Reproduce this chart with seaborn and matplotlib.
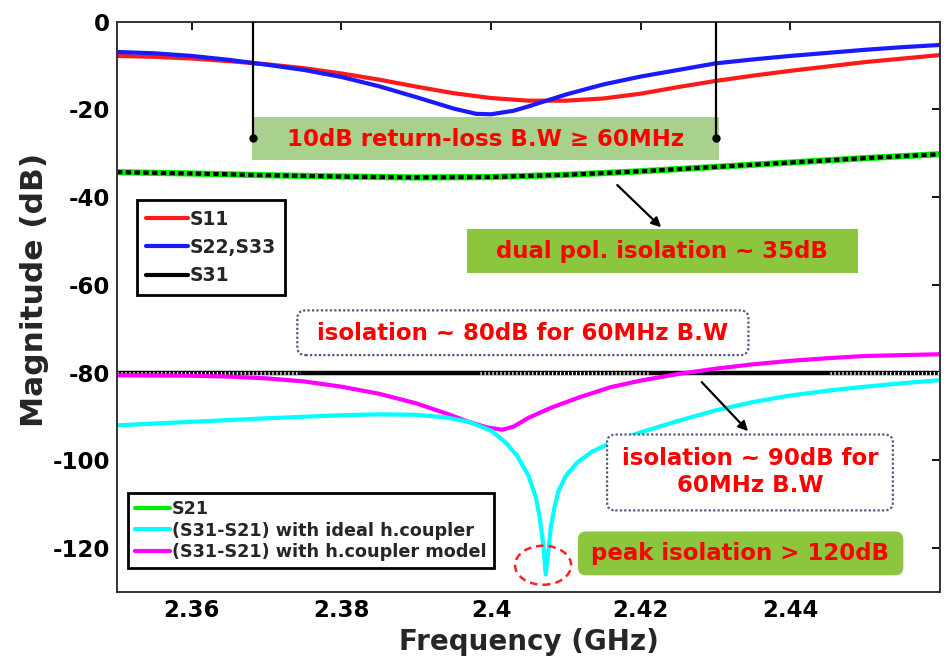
import numpy as np
import pandas as pd
import matplotlib
matplotlib.use("Agg")
import matplotlib.pyplot as plt
import seaborn as sns
from matplotlib.lines import Line2D
from matplotlib.patches import FancyBboxPatch, Ellipse

# ---------------- data ----------------
s11_f = [2.350, 2.355, 2.360, 2.365, 2.370, 2.375, 2.380, 2.385, 2.390, 2.395, 2.400, 2.405,
         2.410, 2.415, 2.420, 2.425, 2.430, 2.435, 2.440, 2.445, 2.450, 2.455, 2.460]
s11_db = [-7.8, -8.0, -8.4, -9.0, -9.7, -10.6, -11.8, -13.2, -14.8, -16.3, -17.4, -18.0,
          -18.0, -17.5, -16.4, -14.9, -13.5, -12.3, -11.2, -10.2, -9.2, -8.4, -7.6]

s22_f = [2.350, 2.355, 2.360, 2.365, 2.370, 2.375, 2.380, 2.385, 2.390, 2.395, 2.398, 2.400,
         2.403, 2.405, 2.410, 2.415, 2.420, 2.425, 2.430, 2.435, 2.440, 2.445, 2.450, 2.455, 2.460]
s22_db = [-6.9, -7.2, -7.8, -8.7, -9.8, -11.0, -12.6, -14.7, -17.2, -19.8, -21.0, -21.1,
          -20.3, -19.3, -16.6, -14.3, -12.5, -11.0, -9.5, -8.6, -7.8, -7.1, -6.4, -5.8, -5.3]

s21_f = [2.350, 2.360, 2.370, 2.380, 2.390, 2.400, 2.410, 2.420, 2.430, 2.440, 2.450, 2.460]
s21_db = [-34.3, -34.6, -35.0, -35.3, -35.5, -35.4, -34.9, -34.1, -33.1, -32.1, -31.1, -30.2]
s31_db = [-34.3, -34.6, -35.0, -35.3, -35.5, -35.4, -34.9, -34.1, -33.1, -32.1, -31.1, -30.2]

iso_ref_f = [2.350, 2.460]
iso_ref_db = [-80.0, -80.0]

ideal_f = [2.350, 2.360, 2.370, 2.380, 2.385, 2.390, 2.394, 2.397, 2.400, 2.402, 2.4035, 2.405,
           2.406, 2.4065, 2.407, 2.4073, 2.4077, 2.408, 2.4085, 2.409, 2.410, 2.4115, 2.4135,
           2.416, 2.420, 2.425, 2.430, 2.435, 2.440, 2.445, 2.450, 2.455, 2.460]
ideal_db = [-92.0, -91.2, -90.4, -89.7, -89.5, -89.6, -90.2, -91.2, -93.2, -96.0, -99.0, -103.5,
            -108.5, -113.0, -119.5, -126.0, -120.0, -115.0, -110.5, -107.0, -103.5, -100.5, -98.0,
            -96.0, -93.6, -91.0, -88.6, -86.7, -85.2, -84.1, -83.2, -82.4, -81.7]

model_f = [2.350, 2.360, 2.365, 2.370, 2.375, 2.380, 2.385, 2.390, 2.394, 2.397, 2.3995, 2.4015,
           2.403, 2.405, 2.408, 2.412, 2.416, 2.420, 2.425, 2.430, 2.435, 2.440, 2.445, 2.450, 2.455, 2.460]
model_db = [-80.6, -80.7, -80.9, -81.3, -82.0, -83.2, -84.8, -87.0, -89.3, -91.2, -92.5, -93.0,
            -92.3, -90.3, -88.0, -85.5, -83.3, -81.8, -80.3, -79.1, -78.1, -77.3, -76.7, -76.2, -76.0, -75.8]

x_ticks = [2.36, 2.38, 2.40, 2.42, 2.44]
x_tick_labels = ["2.36", "2.38", "2.4", "2.42", "2.44"]
y_ticks = [0, -20, -40, -60, -80, -100, -120]

# ---------------- style ----------------
sns.set_style("white")
plt.rcParams['font.family'] = ['DejaVu Sans']
plt.rcParams['font.weight'] = 'bold'
plt.rcParams['axes.labelweight'] = 'bold'
plt.rcParams['axes.unicode_minus'] = False

fig = plt.figure(figsize=(9.49, 6.70), dpi=100)
ax = fig.add_axes([0.1233, 0.1164, 0.8672, 0.8512])

LW = 3.0
RED, BLUE, GREEN, CYAN, MAG = "#ff1a1a", "#1a1aff", "#00ee00", "#00ffff", "#ff00ff"

sns.lineplot(x=s11_f, y=s11_db, ax=ax, color=RED, lw=LW, legend=False, sort=False)
sns.lineplot(x=s22_f, y=s22_db, ax=ax, color=BLUE, lw=LW, legend=False, sort=False)
sns.lineplot(x=s21_f, y=s21_db, ax=ax, color=GREEN, lw=4.5, legend=False, sort=False)
l31 = sns.lineplot(x=s21_f, y=s31_db, ax=ax, color="black", lw=3.0, legend=False, sort=False).lines[-1]
l31.set_dashes([1.3, 0.8])

# -80 dB reference line with dotted segments
sns.lineplot(x=iso_ref_f, y=iso_ref_db, ax=ax, color="black", lw=3.2, legend=False, sort=False)
for a, b in [(2.350, 2.3745), (2.3985, 2.4213), (2.4453, 2.460)]:
    ln = ax.plot([a, b], [iso_ref_db[0]] * 2, color="white", lw=2.2)[0]
    ln.set_dashes([0.4, 0.9])

sns.lineplot(x=model_f, y=model_db, ax=ax, color=MAG, lw=LW, legend=False, sort=False)
sns.lineplot(x=ideal_f, y=ideal_db, ax=ax, color=CYAN, lw=LW, legend=False, sort=False)

ax.set_xlim(2.35, 2.46)
ax.set_ylim(-130, 0)
ax.set_xticks(x_ticks)
ax.set_xticklabels(x_tick_labels)
ax.set_yticks(y_ticks)
ax.set_yticklabels([str(v) for v in y_ticks])
ax.tick_params(direction='in', top=True, right=True, length=6, width=1.3,
               labelsize=16.5, pad=5, colors="black")
for lab in ax.get_xticklabels() + ax.get_yticklabels():
    lab.set_fontweight('bold')
for sp in ax.spines.values():
    sp.set_color("#333333")
    sp.set_linewidth(1.4)
ax.set_xlabel("Frequency (GHz)", fontsize=20, fontweight='bold', labelpad=4)
ax.set_ylabel("Magnitude (dB)", fontsize=22.5, fontweight='bold')
ax.yaxis.set_label_coords(-0.083, 0.53)

# ---------------- annotations ----------------
ASP = 1700.0
for xv in [2.3682, 2.4300]:
    ax.plot([xv, xv], [0, -26.6], color="black", lw=1.6, zorder=4)
    ax.plot([xv], [-26.6], marker='o', color="black", ms=5, zorder=4)

ax.add_patch(FancyBboxPatch((2.3680, -31.5), 0.0625, 9.8, boxstyle="square,pad=0",
                            fc="#a9d18e", ec="none", zorder=3))
ax.text(2.3993, -26.9, "10dB return-loss B.W \u2265 60MHz", color="#ff0000", fontsize=16.5,
        fontweight='bold', ha='center', va='center', zorder=5)

ax.add_patch(FancyBboxPatch((2.3968, -57.3), 0.0523, 10.0, boxstyle="square,pad=0",
                            fc="#8cc63f", ec="none", zorder=3))
ax.text(2.4229, -52.4, "dual pol. isolation ~ 35dB", color="#ff0000", fontsize=16.5,
        fontweight='bold', ha='center', va='center', zorder=5)
ax.annotate("", xy=(2.4230, -47.3), xytext=(2.4166, -36.8),
            arrowprops=dict(arrowstyle="-|>", color="black", lw=1.6, mutation_scale=14), zorder=5)

ax.add_patch(FancyBboxPatch((2.3741, -76.0), 0.0603, 10.2,
                            boxstyle="round,pad=0,rounding_size=0.0011", mutation_aspect=ASP,
                            fc="white", ec="#4a5a80", lw=1.6, ls=(0, (1, 1)), zorder=3))
ax.text(2.4042, -71.0, "isolation ~ 80dB for 60MHz B.W", color="#ff0000", fontsize=16.5,
        fontweight='bold', ha='center', va='center', zorder=5)

ax.annotate("", xy=(2.4346, -93.8), xytext=(2.4279, -81.7),
            arrowprops=dict(arrowstyle="-|>", color="black", lw=1.6, mutation_scale=14), zorder=5)
ax.add_patch(FancyBboxPatch((2.4155, -111.4), 0.0382, 17.3,
                            boxstyle="round,pad=0,rounding_size=0.0011", mutation_aspect=ASP,
                            fc="white", ec="#4a5a80", lw=1.6, ls=(0, (1, 1)), zorder=3))
ax.text(2.4346, -102.7, "isolation ~ 90dB for\n60MHz B.W", color="#ff0000", fontsize=16.5,
        fontweight='bold', ha='center', va='center', linespacing=1.25, zorder=5)

ax.add_patch(FancyBboxPatch((2.4116, -126.2), 0.0435, 10.0,
                            boxstyle="round,pad=0,rounding_size=0.0011", mutation_aspect=ASP,
                            fc="#8cc63f", ec="none", zorder=3))
ax.text(2.4333, -121.2, "peak isolation > 120dB", color="#ff0000", fontsize=16.5,
        fontweight='bold', ha='center', va='center', zorder=5)

ax.add_patch(Ellipse((2.40695, -123.9), 0.0075, 8.9, fc="none", ec="#ff2020",
                     lw=1.8, ls=(0, (3, 2)), zorder=5))

# ---------------- legends ----------------
h1 = [Line2D([], [], color=RED, lw=3), Line2D([], [], color=BLUE, lw=3),
      Line2D([], [], color="black", lw=3)]
leg1 = ax.legend(h1, ["S11", "S22,S33", "S31"], loc="upper left",
                 bbox_to_anchor=(0.0243, 0.687), frameon=True, fancybox=False, framealpha=1,
                 edgecolor="black", borderaxespad=0, handlelength=2.2, handletextpad=0.1,
                 labelspacing=0.5, borderpad=0.5, prop=dict(size=13.5, weight='bold'))
leg1.get_frame().set_linewidth(2.0)
leg1.set_zorder(6)
ax.add_artist(leg1)

h2 = [Line2D([], [], color=GREEN, lw=3), Line2D([], [], color=CYAN, lw=3),
      Line2D([], [], color=MAG, lw=3)]
leg2 = ax.legend(h2, ["S21", "(S31-S21) with ideal h.coupler", "(S31-S21) with h.coupler model"],
                 loc="upper left", bbox_to_anchor=(0.0134, 0.1736), frameon=True, fancybox=False,
                 framealpha=1, edgecolor="black", borderaxespad=0, handlelength=2.0,
                 handletextpad=0.1, labelspacing=0.2, borderpad=0.4,
                 prop=dict(size=12.7, weight='bold'))
leg2.get_frame().set_linewidth(2.0)
leg2.set_zorder(6)

fig.savefig("out.png", dpi=100)
